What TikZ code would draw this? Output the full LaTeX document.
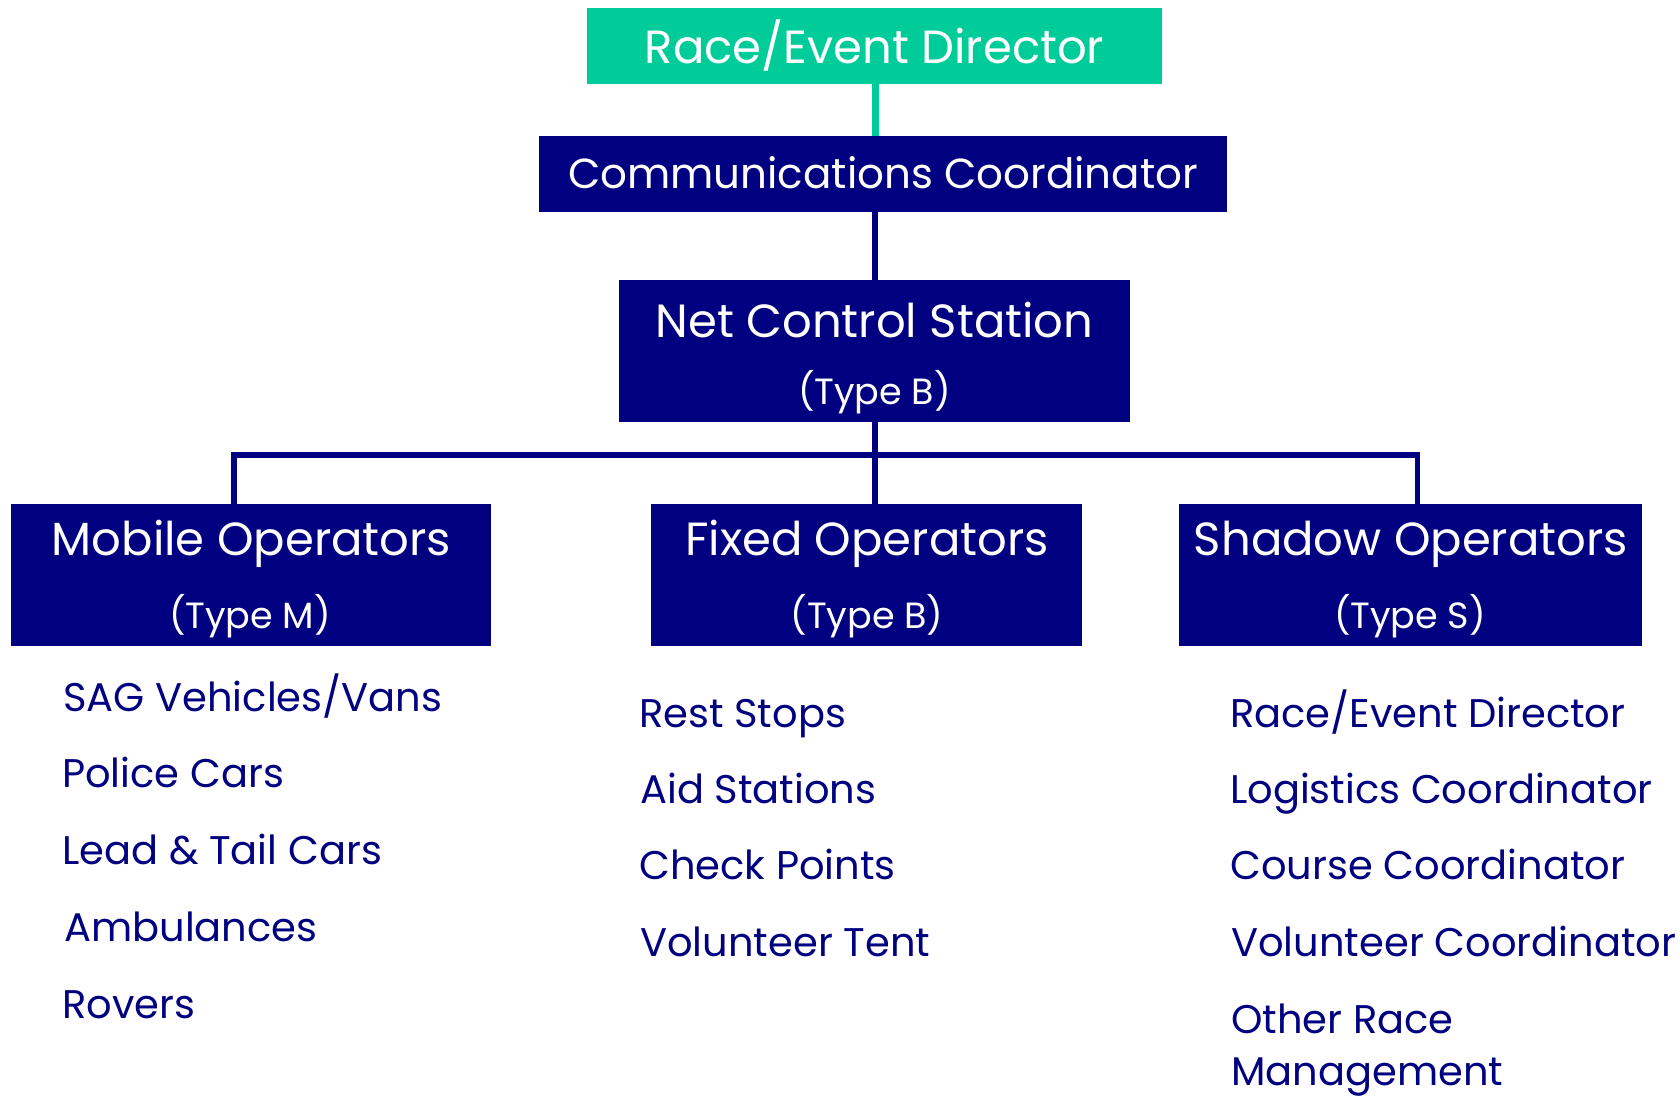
\documentclass[tikz,border=0pt]{standalone}
\usepackage{fontspec}
\setmainfont{Poppins}
\definecolor{rgreen}{HTML}{00CC99}
\definecolor{rnavy}{HTML}{000080}
\begin{document}
\begin{tikzpicture}[x=1pt,y=-1pt,
  gbox/.style={fill=rgreen,draw=none,inner sep=0pt,minimum width=#1,minimum height=76pt},
  nbox/.style={fill=rnavy,draw=none,inner sep=0pt,minimum width=#1},
  head/.style={text=white,inner sep=0pt,font=\fontsize{46.5}{50}\selectfont},
  sub/.style={text=white,inner sep=0pt,font=\fontsize{36.5}{40}\selectfont},
  item/.style={text=rnavy,anchor=west,inner sep=0pt,text height=30pt,text depth=8pt,font=\fontsize{40}{44}\selectfont},
  gline/.style={draw=rgreen,line width=7pt},
  nline/.style={draw=rnavy,line width=5.5pt,line join=miter}]
\useasboundingbox (0,0) rectangle (1680,1098);

% boxes
\node[gbox=575pt] (top) at (874.5,45.5) {};
\node[nbox=688pt,minimum height=76pt] (comm) at (883,174) {};
\node[nbox=511pt,minimum height=142pt] (ncs) at (874.5,351) {};
\node[nbox=480pt,minimum height=142pt] (mobile) at (251,575) {};
\node[nbox=431pt,minimum height=142pt] (fixed) at (866.5,575) {};
\node[nbox=463pt,minimum height=142pt] (shadow) at (1410.5,575) {};

% connectors
\coordinate (bus) at (875,455);
\coordinate (mtap) at (234,504);
\coordinate (stap) at (1417.5,504);
\draw[gline] (875,83.6) coordinate (gt) -- (gt |- comm.north);
\draw[nline] (bus |- comm.south) -- (bus |- ncs.north);
\draw[nline] (bus |- ncs.south) -- (bus |- fixed.north);
\draw[nline] (mtap) |- (bus) -| (stap);

% box texts
\node[head] (topt) at (874.5,46) {Race/Event Director};
\node[head,font=\fontsize{42}{46}\selectfont] (commt) at (883,173) {Communications Coordinator};
\node[head] (ncst) at (874.5,320) {Net Control Station};
\node[sub] (ncss) at (874.5,392) {(Type B)};
\node[head] (mobt) at (251.5,544) {Mobile Operators};
\node[sub] (mobs) at (250,616) {(Type M)};
\node[head] (fixt) at (867,544) {Fixed Operators};
\node[sub] (fixs) at (867,616) {(Type B)};
\node[head] (shat) at (1411,544) {Shadow Operators};
\node[sub] (shas) at (1410,616) {(Type S)};

% lists
\node[item] (m1) at (63,700) {SAG Vehicles/Vans};
\node[item] (m2) at (62,776) {Police Cars};
\node[item] (m3) at (62,853) {Lead \& Tail Cars};
\node[item] (m4) at (64,930) {Ambulances};
\node[item] (m5) at (62,1007) {Rovers};

\node[item] (f1) at (639,716) {Rest Stops};
\node[item] (f2) at (640,792) {Aid Stations};
\node[item] (f3) at (639,868) {Check Points};
\node[item] (f4) at (640,945) {Volunteer Tent};

\node[item] (s1) at (1230,716) {Race/Event Director};
\node[item] (s2) at (1230,792) {Logistics Coordinator};
\node[item] (s3) at (1230,868) {Course Coordinator};
\node[item] (s4) at (1231,945) {Volunteer Coordinator};
\node[item] (s5) at (1231,1022) {Other Race};
\node[item] (s6) at (1231,1074) {Management};
\end{tikzpicture}
\end{document}
